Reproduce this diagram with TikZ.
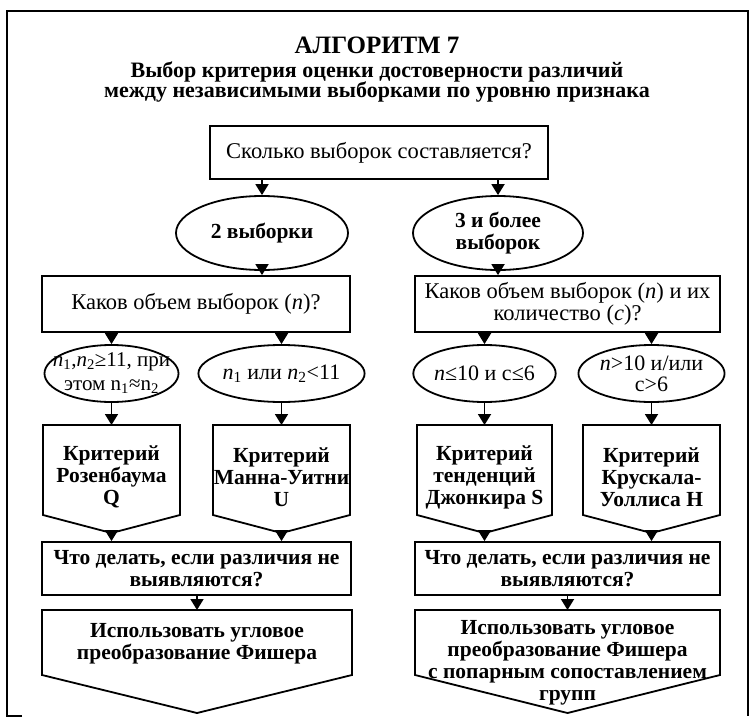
\documentclass[tikz,border=0pt]{standalone}
\usepackage{fontspec}
\setmainfont{Liberation Serif}
\usetikzlibrary{shapes.geometric,arrows.meta}
\tikzset{
  shp/.style={draw, line width=1.8pt},
  regf/.style={font=\fontsize{22.5}{22.5}\selectfont},
  bldf/.style={font=\bfseries\fontsize{21.5}{22}\selectfont},
  boxn/.style={shp, rectangle, inner sep=0pt, align=center, regf},
  elln/.style={shp, ellipse, inner sep=0pt, align=center, font=\fontsize{22}{21}\selectfont},
  txtn/.style={align=center, inner sep=0pt, bldf},
  arr/.style={line width=1.8pt, -{Triangle[width=13pt,length=11pt]}},
  framel/.style={line width=2.5pt},
}
\begin{document}
\begin{tikzpicture}[x=1pt,y=-1pt]
\useasboundingbox (0,0) rectangle (751,722);
% frame
\draw[framel] (22,716) -- (7,716) -- (7,11) -- (748,11) -- (748,716);
% title
\node[font=\bfseries\fontsize{25}{28}\selectfont] (title) at (377,45) {АЛГОРИТМ 7};
\node[align=center, font=\bfseries\fontsize{22}{20.5}\selectfont] (sub) at (377,82)
  {Выбор критерия оценки достоверности различий\\между независимыми выборками по уровню признака};
% top
\node[boxn, minimum width=338pt, minimum height=53pt] (top) at (379,152.5) {Сколько выборок составляется?};
\node[elln, bldf, minimum width=172pt, minimum height=74pt] (eA) at (262,233) {2 выборки};
\node[elln, bldf, minimum width=170pt, minimum height=74pt] (eB) at (498,233) {3 и более\\выборок};
\node[boxn, minimum width=308pt, minimum height=56pt] (mL) at (196,304) {Каков объем выборок (\textit{n})?};
\node[boxn, minimum width=305pt, minimum height=56pt] (mR) at (567.5,304) {Каков объем выборок (\textit{n}) и их\\количество (\textit{c})?};
% row 2 ellipses
\node[elln, minimum width=134pt, minimum height=57pt] (e1) at (111.5,373.5) {};
\node[align=center, inner sep=0pt, font=\fontsize{21}{24}\selectfont] (e1t) at (e1.center) {\textit{n}\textsubscript{1},\textit{n}\textsubscript{2}≥11, при\\этом n\textsubscript{1}≈n\textsubscript{2}};
\node[elln, minimum width=136pt, minimum height=57pt] (e2) at (281.5,373.5) {\textit{n}\textsubscript{1} или \textit{n}\textsubscript{2}<11};
\node[elln, minimum width=132pt, minimum height=57pt] (e3) at (484.5,373.5) {\textit{n}≤10 и c≤6};
\node[elln, minimum width=137pt, minimum height=57pt] (e4) at (651.5,373.5) {\textit{n}>10 и/или\\c>6};
% criterion pentagons
\draw[shp] (43,425) -- (180,425) -- (180,515) -- (111.5,533) -- (43,515) -- cycle;
\draw[shp] (213,425) -- (350,425) -- (350,515) -- (281.5,533) -- (213,515) -- cycle;
\draw[shp] (417,425) -- (552,425) -- (552,515) -- (484.5,533) -- (417,515) -- cycle;
\draw[shp] (583,425) -- (720,425) -- (720,515) -- (651.5,533) -- (583,515) -- cycle;
\coordinate (p1top) at (111.5,425); \coordinate (p1tip) at (111.5,533);
\coordinate (p2top) at (281.5,425); \coordinate (p2tip) at (281.5,533);
\coordinate (p3top) at (484.5,425); \coordinate (p3tip) at (484.5,533);
\coordinate (p4top) at (651.5,425); \coordinate (p4tip) at (651.5,533);
\node[txtn] (p1) at (111.5,477) {Критерий\\Розенбаума\\Q};
\node[txtn] (p2) at (281.5,477) {Критерий\\Манна-Уитни\\U};
\node[txtn] (p3) at (484.5,477) {Критерий\\тенденций\\Джонкира S};
\node[txtn] (p4) at (651.5,477) {Критерий\\Крускала-\\Уоллиса H};
% what to do boxes
\node[boxn, bldf, minimum width=309pt, minimum height=53pt] (wL) at (196.5,568.5) {Что делать, если различия не\\выявляются?};
\node[boxn, bldf, minimum width=305pt, minimum height=53pt] (wR) at (567.5,568.5) {Что делать, если различия не\\выявляются?};
% final pentagons
\draw[shp] (42,610) -- (352,610) -- (352,675) -- (197,713) -- (42,675) -- cycle;
\draw[shp] (415,610) -- (720,610) -- (720,675) -- (567.5,713) -- (415,675) -- cycle;
\coordinate (fLtop) at (197,610);
\coordinate (fRtop) at (567.5,610);
\node[txtn] (fL) at (197,644) {Использовать угловое\\преобразование Фишера};
\node[txtn] (fR) at (567.5,663) {Использовать угловое\\преобразование Фишера\\с попарным сопоставлением\\групп};
% arrows
\draw[arr] (top.south -| eA) -- (eA.north);
\draw[arr] (top.south -| eB) -- (eB.north);
\draw[arr] (eA.south) -- (mL.north -| eA);
\draw[arr] (eB.south) -- (mR.north -| eB);
\draw[arr] (mL.south -| e1) -- (e1.north);
\draw[arr] (mL.south -| e2) -- (e2.north);
\draw[arr] (mR.south -| e3) -- (e3.north);
\draw[arr] (mR.south -| e4) -- (e4.north);
\draw[arr] (e1.south) -- (p1top);
\draw[arr] (e2.south) -- (p2top);
\draw[arr] (e3.south) -- (p3top);
\draw[arr] (e4.south) -- (p4top);
\draw[arr] (p1tip) -- (wL.north -| p1tip);
\draw[arr] (p2tip) -- (wL.north -| p2tip);
\draw[arr] (p3tip) -- (wR.north -| p3tip);
\draw[arr] (p4tip) -- (wR.north -| p4tip);
\draw[arr] (wL.south -| fLtop) -- (fLtop);
\draw[arr] (wR.south -| fRtop) -- (fRtop);
\end{tikzpicture}
\end{document}
